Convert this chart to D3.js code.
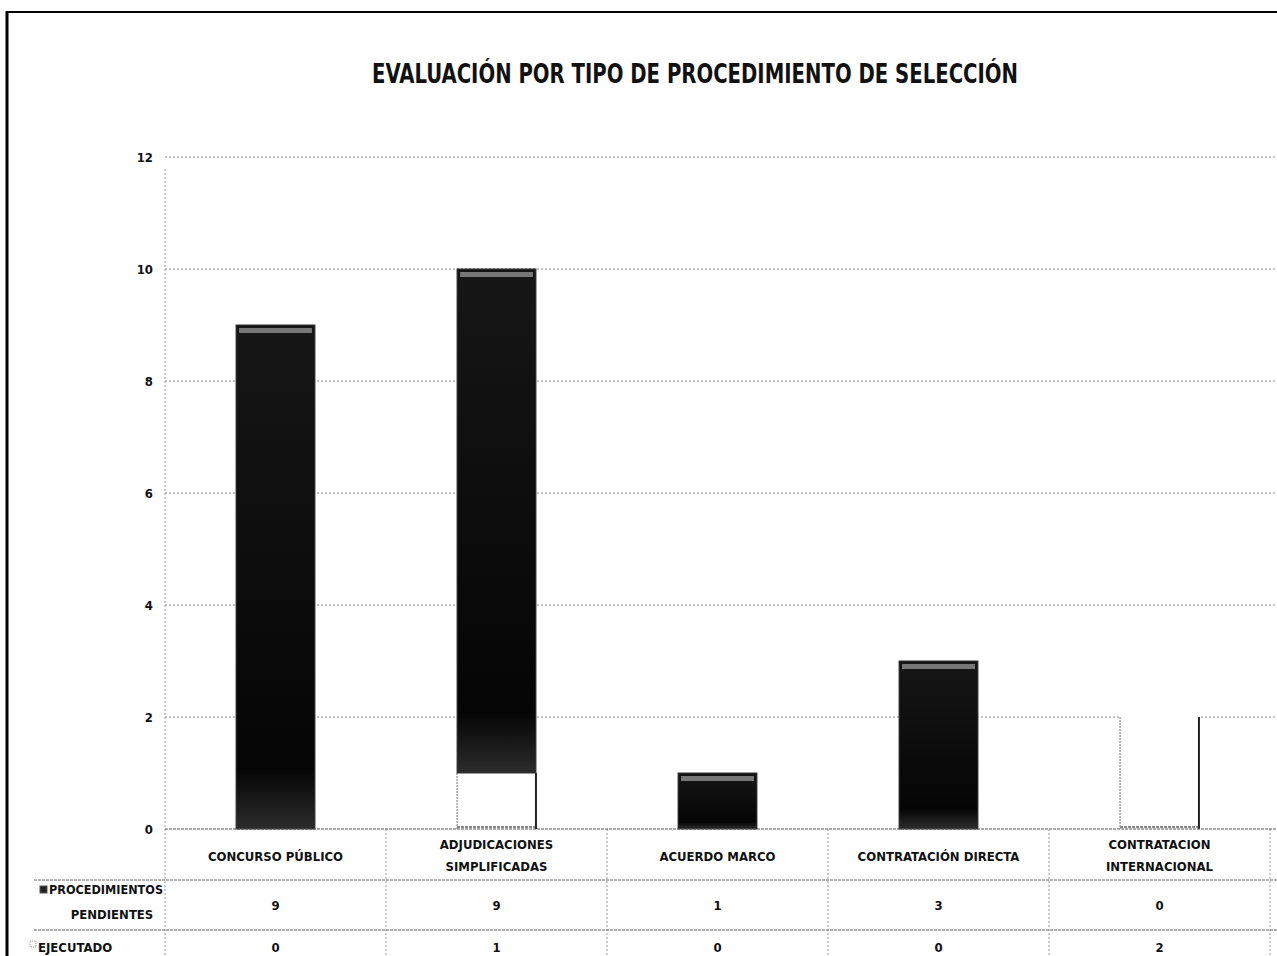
<!DOCTYPE html>
<html>
<head>
<meta charset="utf-8">
<script src="https://cdn.jsdelivr.net/npm/d3@7"></script>
<style>
  body { margin: 0; background: #fff; }
  text { font-family: "Liberation Sans Narrow", "DejaVu Sans Condensed", "Open Sans", sans-serif; font-weight: bold; fill: #111; }
</style>
</head>
<body>
<svg id="chart" width="1277" height="956"></svg>
<script>
// data
var categories = ["CONCURSO PÚBLICO", "ADJUDICACIONES SIMPLIFICADAS", "ACUERDO MARCO", "CONTRATACIÓN DIRECTA", "CONTRATACION INTERNACIONAL"];
var categoryLines = [["CONCURSO PÚBLICO"], ["ADJUDICACIONES", "SIMPLIFICADAS"], ["ACUERDO MARCO"], ["CONTRATACIÓN DIRECTA"], ["CONTRATACION", "INTERNACIONAL"]];
var pendientes = [9, 9, 1, 3, 0];
var ejecutado = [0, 1, 0, 0, 2];
var yTicks = [0, 2, 4, 6, 8, 10, 12];
var title = "EVALUACIÓN POR TIPO DE PROCEDIMIENTO DE SELECCIÓN";

drawChart();

function drawChart(){
    var svg = d3.select('#chart');
    var left = 165, right = 1270, top = 157, bottom = 829;
    var row1 = 880, row2 = 930, tableEnd = 956;

    // scales
    var x = d3.scaleBand()
                .domain(categories)
                .range([left, right])
                .paddingInner(0.643)
                .paddingOuter(0.3215);
    var step = x.step();
    var y = d3.scaleLinear()
                .domain([0, 12])
                .range([bottom, top]);

    // gradient for the dark bars
    var defs = svg.append('defs');
    var grad = defs.append('linearGradient')
                .attr('id', 'bar-grad')
                .attr('x1', 0).attr('x2', 0).attr('y1', 0).attr('y2', 1);
    grad.selectAll('stop')
        .data([
            {offset: '0%', color: '#161616'},
            {offset: '88%', color: '#050505'},
            {offset: '100%', color: '#2c2c2c'}
        ])
        .enter().append('stop')
            .attr('offset', function(d){ return d.offset })
            .attr('stop-color', function(d){ return d.color });

    // frame of the scanned page
    svg.append('line').attr('x1', 7).attr('x2', 7).attr('y1', 11).attr('y2', tableEnd)
        .style('stroke', '#000').style('stroke-width', 3);
    svg.append('line').attr('x1', 6).attr('x2', 1277).attr('y1', 12).attr('y2', 12)
        .style('stroke', '#000').style('stroke-width', 2);

    // title
    svg.append('text')
        .attr('x', 695).attr('y', 83)
        .attr('text-anchor', 'middle')
        .attr('textLength', 646)
        .attr('lengthAdjust', 'spacingAndGlyphs')
        .style('font-size', '27px')
        .text(title);

    // gridlines
    svg.append('g')
        .attr('class', 'grid')
        .selectAll('line')
        .data(yTicks.filter(function(d){ return d > 0 }))
        .enter().append('line')
            .attr('x1', left).attr('x2', 1277)
            .attr('y1', function(d){ return y(d) })
            .attr('y2', function(d){ return y(d) })
            .style('stroke', '#888')
            .style('stroke-width', 1)
            .style('stroke-dasharray', '2,2');

    // y axis
    var yAxis = svg.append('g')
        .attr('transform', 'translate(' + left + ',0)')
        .call(d3.axisLeft(y).tickValues(yTicks).tickSize(0).tickPadding(12));
    yAxis.select('.domain').remove();
    yAxis.selectAll('text')
        .style('font-size', '13px')
        .style('font-family', '"Liberation Sans Narrow", "DejaVu Sans Condensed", sans-serif')
        .style('font-weight', 'bold')
        .attr('fill', '#111');

    // vertical axis and table column separators
    svg.append('line').attr('x1', left).attr('x2', left).attr('y1', top + 12).attr('y2', tableEnd)
        .style('stroke', '#999').style('stroke-dasharray', '2,2');
    svg.append('g').selectAll('line')
        .data(categories)
        .enter().append('line')
            .attr('x1', function(d, i){ return left + (i + 1) * step })
            .attr('x2', function(d, i){ return left + (i + 1) * step })
            .attr('y1', bottom).attr('y2', tableEnd)
            .style('stroke', '#999')
            .style('stroke-dasharray', '2,2');

    // ejecutado (bottom, white) - covers the gridline, dotted left edge, dark right edge
    var ej = svg.append('g').selectAll('g')
        .data(categories)
        .enter().append('g')
        .filter(function(d, i){ return ejecutado[i] > 0 });
    ej.append('rect')
        .attr('x', function(d){ return x(d) })
        .attr('width', x.bandwidth())
        .attr('y', function(d){ return y(ejecutado[categories.indexOf(d)]) - 1 })
        .attr('height', function(d){ return bottom - y(ejecutado[categories.indexOf(d)]) + 1 })
        .style('fill', '#fff');
    ej.append('line')
        .attr('x1', function(d){ return x(d) })
        .attr('x2', function(d){ return x(d) })
        .attr('y1', function(d){ return y(ejecutado[categories.indexOf(d)]) })
        .attr('y2', bottom)
        .style('stroke', '#777')
        .style('stroke-dasharray', '2,1');
    ej.append('line')
        .attr('x1', function(d){ return x(d) })
        .attr('x2', function(d){ return x(d) + x.bandwidth() })
        .attr('y1', bottom - 2).attr('y2', bottom - 2)
        .style('stroke', '#888')
        .style('stroke-width', 2)
        .style('stroke-dasharray', '3,1');
    ej.append('line')
        .attr('x1', function(d){ return x(d) + x.bandwidth() })
        .attr('x2', function(d){ return x(d) + x.bandwidth() })
        .attr('y1', function(d){ return y(ejecutado[categories.indexOf(d)]) })
        .attr('y2', bottom)
        .style('stroke', '#222')
        .style('stroke-width', 2);

    // pendientes (stacked on top, dark)
    var pe = svg.append('g').selectAll('g')
        .data(categories)
        .enter().append('g')
        .filter(function(d, i){ return pendientes[i] > 0 });
    pe.append('rect')
        .attr('x', function(d){ return x(d) })
        .attr('width', x.bandwidth())
        .attr('y', function(d){ var i = categories.indexOf(d); return y(ejecutado[i] + pendientes[i]) })
        .attr('height', function(d){ var i = categories.indexOf(d); return y(ejecutado[i]) - y(ejecutado[i] + pendientes[i]) })
        .style('fill', 'url(#bar-grad)')
        .style('stroke', '#333')
        .style('stroke-width', 1);
    // grey highlight near the top of each dark bar
    pe.append('rect')
        .attr('x', function(d){ return x(d) + 3 })
        .attr('width', x.bandwidth() - 6)
        .attr('y', function(d){ var i = categories.indexOf(d); return y(ejecutado[i] + pendientes[i]) + 3 })
        .attr('height', 5)
        .style('fill', '#777');

    // baseline
    svg.append('line').attr('x1', left).attr('x2', 1277).attr('y1', bottom).attr('y2', bottom)
        .style('stroke', '#555').style('stroke-dasharray', '3,1');

    // table horizontal lines
    svg.append('g').selectAll('line')
        .data([row1, row2])
        .enter().append('line')
            .attr('x1', 34).attr('x2', 1277)
            .attr('y1', function(d){ return d }).attr('y2', function(d){ return d })
            .style('stroke', '#666')
            .style('stroke-dasharray', '3,1');

    // category labels
    var catLabels = svg.append('g').selectAll('text')
        .data(categories)
        .enter().append('text')
            .attr('text-anchor', 'middle')
            .style('font-size', '13px');
    catLabels.each(function(d, i){
        var lines = categoryLines[i];
        var cx = x(d) + x.bandwidth() / 2;
        var y0 = lines.length == 1 ? 861 : 849;
        d3.select(this).selectAll('tspan')
            .data(lines)
            .enter().append('tspan')
                .attr('x', cx)
                .attr('y', function(l, j){ return y0 + j * 22 })
                .text(function(l){ return l });
    });

    // data table values
    var rows = [{vals: pendientes, y: 910}, {vals: ejecutado, y: 952}];
    rows.forEach(function(r){
        svg.append('g').selectAll('text')
            .data(categories)
            .enter().append('text')
                .attr('x', function(d){ return x(d) + x.bandwidth() / 2 })
                .attr('y', r.y)
                .attr('text-anchor', 'middle')
                .style('font-size', '13px')
                .text(function(d, i){ return r.vals[i] });
    });

    // row headers with legend keys
    svg.append('rect').attr('x', 40).attr('y', 886).attr('width', 7).attr('height', 7)
        .style('fill', '#222').style('stroke', '#555');
    svg.append('text').attr('x', 49).attr('y', 894).attr('textLength', 114).attr('lengthAdjust', 'spacingAndGlyphs')
        .style('font-size', '13px').text('PROCEDIMIENTOS');
    svg.append('text').attr('x', 112).attr('y', 919).attr('text-anchor', 'middle').style('font-size', '13px').text('PENDIENTES');
    svg.append('rect').attr('x', 30).attr('y', 941).attr('width', 6).attr('height', 6)
        .style('fill', '#fff').style('stroke', '#999').style('stroke-dasharray', '1,1');
    svg.append('text').attr('x', 38).attr('y', 952).style('font-size', '13px').text('EJECUTADO');
}
</script>
</body>
</html>
